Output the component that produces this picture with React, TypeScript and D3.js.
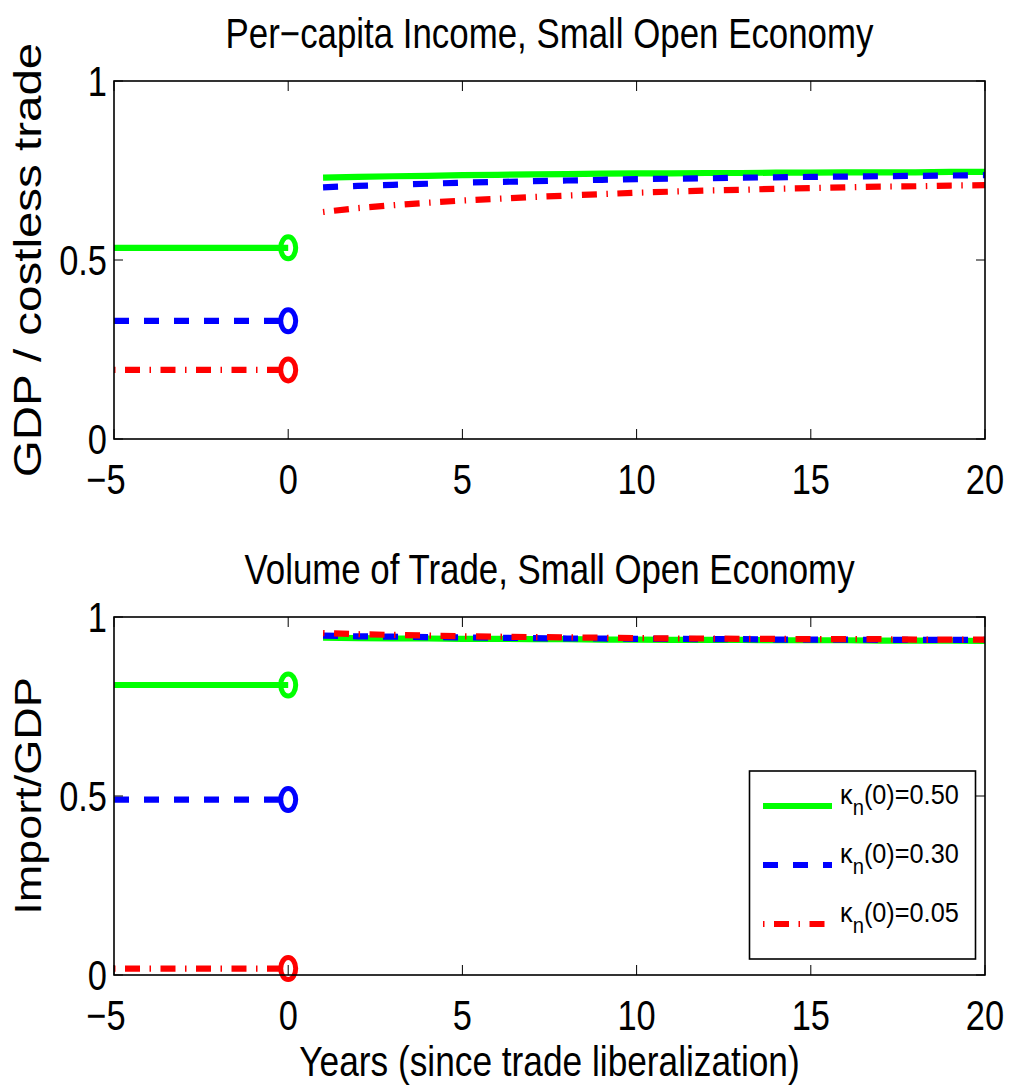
import React from "react";
import * as d3 from "d3";

// years on the x axis
const yearsBefore = [-5, 0];
const yearsAfter = [1, 2, 3, 4, 5, 6, 7, 8, 9, 10, 11, 12, 13, 14, 15, 16, 17, 18, 19, 20];

const kappaLabels = ["0.50", "0.30", "0.05"];
const seriesColors = ["#00ff00", "#0000ff", "#ff0000"];
const seriesDash = [null, "15 15", "1.5 9.5 15 9.5"];

// per-capita income (GDP / costless trade)
const incomeBefore = [0.534, 0.33, 0.193];
const incomeAfter50 = [0.73, 0.732, 0.734, 0.735, 0.737, 0.738, 0.739, 0.74, 0.741, 0.742, 0.742, 0.743, 0.743, 0.744, 0.744, 0.745, 0.745, 0.745, 0.746, 0.746];
const incomeAfter30 = [0.703, 0.707, 0.71, 0.713, 0.716, 0.718, 0.72, 0.722, 0.724, 0.726, 0.727, 0.728, 0.73, 0.731, 0.732, 0.733, 0.734, 0.735, 0.736, 0.737];
const incomeAfter05 = [0.634, 0.645, 0.653, 0.66, 0.666, 0.671, 0.676, 0.68, 0.684, 0.688, 0.691, 0.694, 0.696, 0.699, 0.701, 0.703, 0.705, 0.706, 0.708, 0.709];

// volume of trade (Import / GDP)
const tradeBefore = [0.81, 0.49, 0.018];
const tradeAfter50 = [0.942, 0.941, 0.94, 0.94, 0.939, 0.939, 0.938, 0.938, 0.937, 0.937, 0.936, 0.936, 0.936, 0.935, 0.935, 0.935, 0.934, 0.934, 0.934, 0.933];
const tradeAfter30 = [0.948, 0.946, 0.945, 0.944, 0.943, 0.942, 0.941, 0.94, 0.94, 0.939, 0.939, 0.938, 0.938, 0.937, 0.937, 0.937, 0.936, 0.936, 0.936, 0.936];
const tradeAfter05 = [0.955, 0.952, 0.95, 0.948, 0.946, 0.945, 0.944, 0.943, 0.942, 0.941, 0.94, 0.94, 0.939, 0.939, 0.938, 0.938, 0.938, 0.937, 0.937, 0.937];

const xTicks = [-5, 0, 5, 10, 15, 20];
const yTicks = [0, 0.5, 1];

const FONT = "'Liberation Sans', Arial, Helvetica, sans-serif";
const SQUEEZE = 0.82; // the figure is narrower than it is tall

const W = 1011;
const H = 1089;
const left = 114;
const right = 985;

const x = d3.scaleLinear().domain([-5, 20]).range([left, right]);

const fmt = (v: number) => (v < 0 ? "\u2212" + Math.abs(v) : String(v));

const SText = ({ x, y, size, anchor = "middle", children }: any) => (
  <text
    transform={`translate(${x},${y}) scale(${SQUEEZE},1)`}
    fontSize={size}
    fontFamily={FONT}
    textAnchor={anchor}
    fill="#000"
  >
    {children}
  </text>
);

const Panel = ({ top, bottom, title, ylabel, ysize, before, after, legend }: any) => {
  const y = d3.scaleLinear().domain([0, 1]).range([bottom, top]);
  const line = d3
    .line<[number, number]>()
    .x((d) => x(d[0]))
    .y((d) => y(d[1]));
  const mid = (top + bottom) / 2;

  return (
    <g>
      <SText x={(left + right) / 2} y={top - 33} size={42.5}>
        {title}
      </SText>
      <text
        transform={`translate(41,${mid}) rotate(-90) scale(1,${SQUEEZE})`}
        fontSize={ysize}
        fontFamily={FONT}
        textAnchor="middle"
      >
        {ylabel}
      </text>

      {/* series */}
      {kappaLabels.map((k, i) => {
        const pre = yearsBefore.map((t) => [t, before[i]] as [number, number]);
        const post = yearsAfter.map((t, j) => [t, after[i][j]] as [number, number]);
        return (
          <g key={k} fill="none" stroke={seriesColors[i]} strokeWidth={6.2}>
            <path d={line(pre) as string} strokeDasharray={seriesDash[i] || undefined} />
            <path d={line(post) as string} strokeDasharray={seriesDash[i] || undefined} />
            <ellipse cx={x(0)} cy={y(before[i])} rx={7.5} ry={11} strokeWidth={5} />
          </g>
        );
      })}

      {/* axes box and ticks */}
      <rect x={left} y={top} width={right - left} height={bottom - top} fill="none" stroke="#000" strokeWidth={1.6} />
      {xTicks.map((t) => (
        <g key={"x" + t}>
          <line x1={x(t)} x2={x(t)} y1={bottom} y2={bottom - 10} stroke="#000" strokeWidth={1} />
          <line x1={x(t)} x2={x(t)} y1={top} y2={top + 10} stroke="#000" strokeWidth={1} />
          <SText x={x(t) - (t < 0 ? 8 : 0)} y={bottom + 55} size={42}>
            {fmt(t)}
          </SText>
        </g>
      ))}
      {yTicks.map((t) => (
        <g key={"y" + t}>
          <line x1={left} x2={left + 9} y1={y(t)} y2={y(t)} stroke="#000" strokeWidth={1} />
          <line x1={right} x2={right - 9} y1={y(t)} y2={y(t)} stroke="#000" strokeWidth={1} />
          <SText x={107} y={y(t) + 15} size={42} anchor="end">
            {fmt(t)}
          </SText>
        </g>
      ))}

      {legend && (
        <g>
          <rect x={749.5} y={771} width={226} height={188} fill="#fff" stroke="#000" strokeWidth={1.6} />
          {kappaLabels.map((k, i) => {
            const ry = 806 + i * 59;
            return (
              <g key={"lg" + k}>
                <line
                  x1={763}
                  x2={832}
                  y1={ry}
                  y2={ry}
                  stroke={seriesColors[i]}
                  strokeWidth={6.2}
                  strokeDasharray={seriesDash[i] || undefined}
                />
                <text
                  transform={`translate(840,${ry - 2}) scale(0.92,1)`}
                  fontSize={27.5}
                  fontFamily={FONT}
                >
                  {"\u03ba"}
                  <tspan fontSize={22} dy={11}>
                    n
                  </tspan>
                  <tspan dy={-11}>{`(0)=${k}`}</tspan>
                </text>
              </g>
            );
          })}
        </g>
      )}
    </g>
  );
};

export default function App() {
  return (
    <svg
      width={W}
      height={H}
      style={{ position: "absolute", left: 0, top: 0, background: "#fff" }}
    >
      <rect width={W} height={H} fill="#fff" />
      <Panel
        top={81}
        bottom={439}
        title={"Per\u2212capita Income, Small Open Economy"}
        ylabel="GDP / costless trade"
        ysize={47.5}
        before={incomeBefore}
        after={[incomeAfter50, incomeAfter30, incomeAfter05]}
      />
      <Panel
        top={617}
        bottom={975}
        title="Volume of Trade, Small Open Economy"
        ylabel="Import/GDP"
        ysize={45}
        before={tradeBefore}
        after={[tradeAfter50, tradeAfter30, tradeAfter05]}
        legend
      />
      <SText x={(left + right) / 2} y={1076} size={43}>
        Years (since trade liberalization)
      </SText>
    </svg>
  );
}
